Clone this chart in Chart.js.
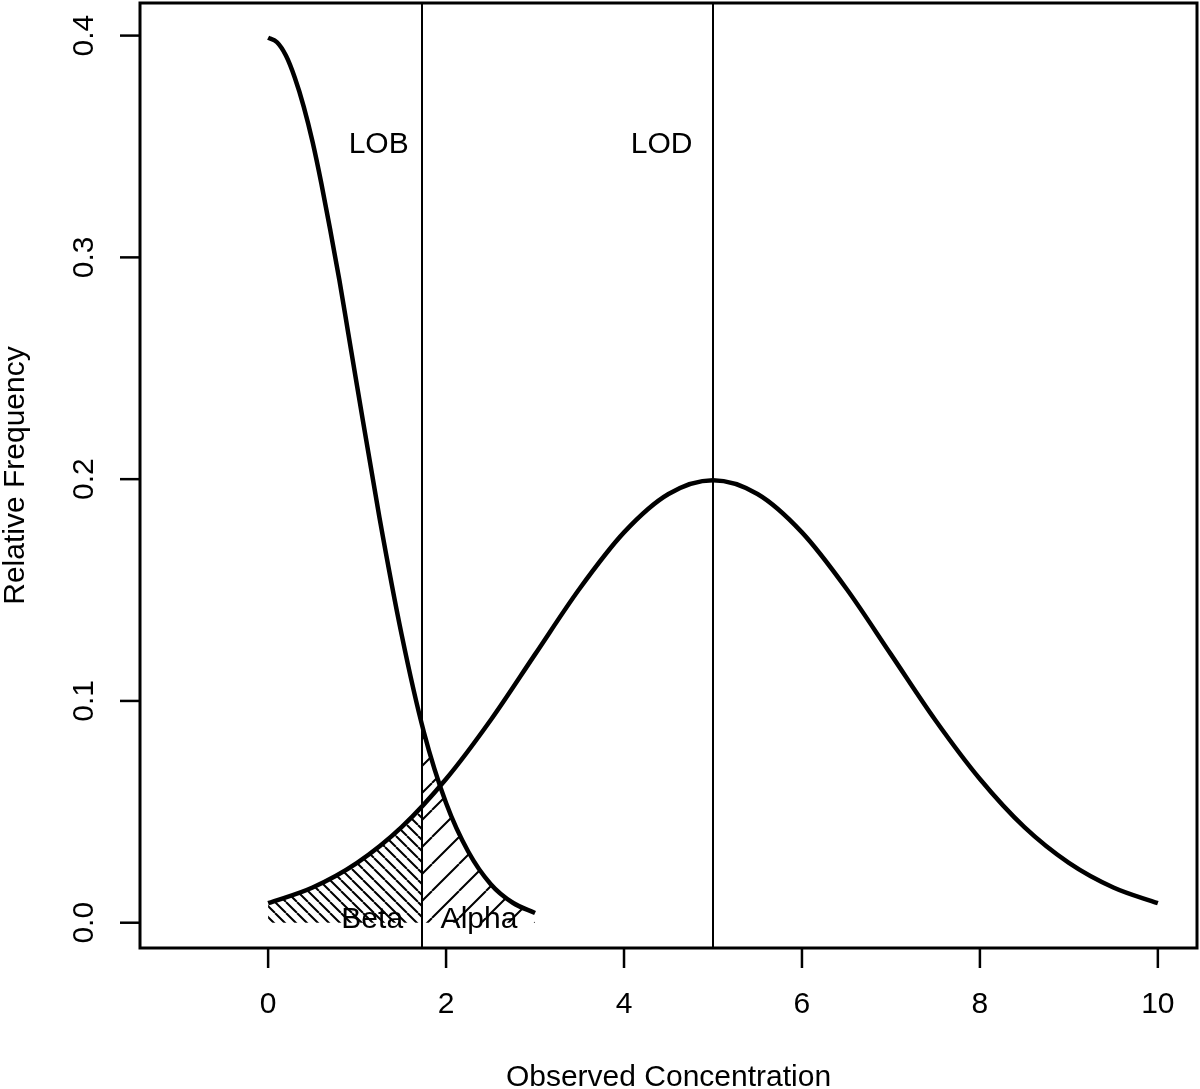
<!DOCTYPE html>
<html>
<head>
<meta charset="utf-8">
<script src="https://cdn.jsdelivr.net/npm/chart.js@4.4.1/dist/chart.umd.min.js"></script>
<style>
  html, body { margin: 0; padding: 0; background: #fff; }
  canvas { display: block; }
</style>
</head>
<body>
<canvas id="lodChart" width="1200" height="1089"></canvas>
<script>
// Blank distribution
const blankX = [0, 0.1, 0.2, 0.3, 0.4, 0.5, 0.6, 0.7, 0.8, 0.9, 1.0, 1.25, 1.5, 1.75, 2.0, 2.25, 2.5, 2.75, 3.0];
const blankY = [0.399, 0.397, 0.391, 0.381, 0.368, 0.352, 0.333, 0.312, 0.29, 0.266, 0.242,
                0.183, 0.130, 0.086, 0.054, 0.032, 0.0175, 0.009, 0.0044];

// Low-level sample distribution
const sampleX = [0, 0.5, 1.0, 1.5, 2.0, 2.5, 3.0, 3.5, 4.0, 4.5, 5.0, 5.5, 6.0, 6.5, 7.0, 7.5, 8.0, 8.5, 9.0, 9.5, 10.0];
const sampleY = [0.0088, 0.0159, 0.027, 0.0431, 0.0648, 0.0913, 0.121, 0.1506, 0.176, 0.1933, 0.1995,
                 0.1933, 0.176, 0.1506, 0.121, 0.0913, 0.0648, 0.0431, 0.027, 0.0159, 0.0088];

// Shaded areas
const betaX = [0, 0.25, 0.5, 0.75, 1.0, 1.25, 1.5, 1.73];
const betaY = [0.0088, 0.0119, 0.0159, 0.0209, 0.027, 0.0344, 0.0431, 0.0524];
const alphaX = [1.73, 2.0, 2.25, 2.5, 2.75, 3.0];
const alphaY = [0.0893, 0.054, 0.032, 0.0175, 0.009, 0.0044];

const lob = 1.73;
const lod = 5;

const xTicks = [0, 2, 4, 6, 8, 10];
const yTicks = [0.0, 0.1, 0.2, 0.3, 0.4];
const yTickLabels = ["0.0", "0.1", "0.2", "0.3", "0.4"];

const FONT = "30px 'Liberation Sans', Arial, sans-serif";

function toPoints(xs, ys) {
  return xs.map((x, i) => ({ x: x, y: ys[i] }));
}

// Hatch patterns
function hatch(size, dir, width) {
  const c = document.createElement("canvas");
  c.width = size;
  c.height = size;
  const g = c.getContext("2d");
  g.strokeStyle = "#000";
  g.lineWidth = width;
  g.beginPath();
  for (let k = -1; k <= 1; k++) {
    if (dir === "back") {
      g.moveTo(k * size, 0);
      g.lineTo(k * size + size, size);
    } else {
      g.moveTo(k * size, size);
      g.lineTo(k * size + size, 0);
    }
  }
  g.stroke();
  return g.createPattern(c, "repeat");
}

const frame = {
  id: "frame",
  afterDraw(chart) {
    const { ctx, chartArea: a, scales } = chart;
    const xs = scales.x, ys = scales.y;
    ctx.save();
    ctx.strokeStyle = "#000";
    ctx.fillStyle = "#000";

    // reference lines
    ctx.lineWidth = 2;
    [lob, lod].forEach(v => {
      const px = Math.round(xs.getPixelForValue(v));
      ctx.beginPath();
      ctx.moveTo(px, a.top);
      ctx.lineTo(px, a.bottom);
      ctx.stroke();
    });

    // box
    ctx.lineWidth = 3;
    ctx.strokeRect(a.left, a.top, a.right - a.left, a.bottom - a.top);

    // ticks
    ctx.lineWidth = 2.5;
    ctx.font = FONT;
    ctx.textAlign = "center";
    ctx.textBaseline = "middle";
    xTicks.forEach(t => {
      const px = xs.getPixelForValue(t);
      ctx.beginPath();
      ctx.moveTo(px, a.bottom);
      ctx.lineTo(px, a.bottom + 20);
      ctx.stroke();
      ctx.fillText(String(t), px, a.bottom + 57);
    });
    yTicks.forEach((t, i) => {
      const py = ys.getPixelForValue(t);
      ctx.beginPath();
      ctx.moveTo(a.left, py);
      ctx.lineTo(a.left - 20, py);
      ctx.stroke();
      ctx.save();
      ctx.translate(a.left - 55, py);
      ctx.rotate(-Math.PI / 2);
      ctx.fillText(yTickLabels[i], 0, 0);
      ctx.restore();
    });

    // axis titles
    ctx.fillText("Observed Concentration", (a.left + a.right) / 2, a.bottom + 130);
    ctx.save();
    ctx.translate(16, (a.top + a.bottom) / 2);
    ctx.rotate(-Math.PI / 2);
    ctx.fillText("Relative Frequency", 0, 0);
    ctx.restore();

    // annotations
    ctx.textAlign = "right";
    ctx.fillText("LOB", xs.getPixelForValue(1.58), ys.getPixelForValue(0.351));
    ctx.fillText("LOD", xs.getPixelForValue(4.77), ys.getPixelForValue(0.351));
    ctx.textAlign = "center";
    ctx.fillText("Beta", xs.getPixelForValue(1.17), ys.getPixelForValue(0.0015));
    ctx.fillText("Alpha", xs.getPixelForValue(2.37), ys.getPixelForValue(0.0015));
    ctx.restore();
  }
};

const ctx = document.getElementById("lodChart").getContext("2d");
const betaFill = hatch(11, "back", 2);
const alphaFill = hatch(27, "fwd", 2);

new Chart(ctx, {
  type: "scatter",
  data: {
    datasets: [
      {
        data: toPoints(betaX, betaY),
        showLine: true,
        borderWidth: 0,
        borderColor: "rgba(0,0,0,0)",
        backgroundColor: betaFill,
        fill: "origin",
        pointRadius: 0,
        cubicInterpolationMode: "monotone"
      },
      {
        data: toPoints(alphaX, alphaY),
        showLine: true,
        borderWidth: 0,
        borderColor: "rgba(0,0,0,0)",
        backgroundColor: alphaFill,
        fill: "origin",
        pointRadius: 0,
        cubicInterpolationMode: "monotone"
      },
      {
        data: toPoints(blankX, blankY),
        showLine: true,
        borderColor: "#000",
        borderWidth: 4.5,
        pointRadius: 0,
        fill: false,
        cubicInterpolationMode: "monotone"
      },
      {
        data: toPoints(sampleX, sampleY),
        showLine: true,
        borderColor: "#000",
        borderWidth: 4.5,
        pointRadius: 0,
        fill: false,
        cubicInterpolationMode: "monotone"
      }
    ]
  },
  options: {
    responsive: false,
    animation: false,
    devicePixelRatio: 1,
    layout: { padding: { left: 132, right: 3, top: 3, bottom: 133 } },
    plugins: { legend: { display: false }, tooltip: { enabled: false } },
    scales: {
      x: {
        type: "linear",
        min: -1.44,
        max: 10.44,
        grid: { display: false },
        border: { display: false },
        ticks: { display: false }
      },
      y: {
        type: "linear",
        min: -0.0114,
        max: 0.4147,
        grid: { display: false },
        border: { display: false },
        ticks: { display: false }
      }
    }
  },
  plugins: [frame]
});
</script>
</body>
</html>
